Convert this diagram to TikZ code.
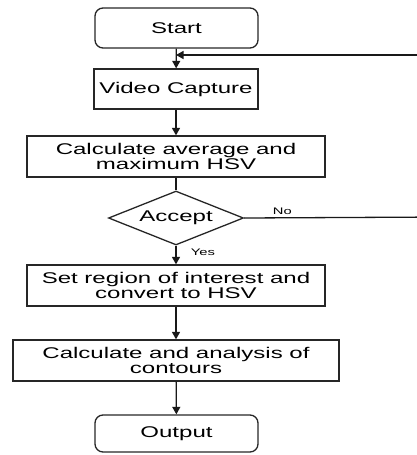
\documentclass[tikz,border=0pt]{standalone}
\usepackage{fontspec}
\setmainfont[FakeStretch=1.55]{Liberation Sans}
\usetikzlibrary{shapes.geometric,arrows.meta}
\begin{document}
\begin{tikzpicture}[x=1pt,y=-1pt,
  base/.style={draw=black!85,line width=1.3pt,inner sep=0pt,align=center,
    font=\fontsize{15.5}{15.5}\selectfont},
  procbox/.style={base,rectangle},
  termbox/.style={base,rectangle,rounded corners=8pt},
  decbox/.style={base,diamond,aspect=2.5},
  lbl/.style={font=\fontsize{9.5}{9.5}\selectfont,inner sep=0pt},
  conn/.style={draw=black!90,line width=1.3pt},
  arr/.style={conn,-{Triangle[length=7.5pt,width=8pt]}}]
\useasboundingbox (0,0) rectangle (416,455);
\node[termbox,minimum width=163pt,minimum height=40pt] (start) at (176.5,28) {Start};
\node[procbox,minimum width=164pt,minimum height=40pt] (vc) at (176,89) {Video Capture};
\node[procbox,minimum width=298pt,minimum height=41pt] (avg) at (176,156.5) {Calculate average and\\maximum HSV};
\node[decbox,minimum width=135pt,minimum height=54pt] (acc) at (176,218) {Accept};
\node[procbox,minimum width=298pt,minimum height=41pt] (roi) at (176,285.5) {Set region of interest and\\convert to HSV};
\node[procbox,minimum width=326pt,minimum height=41pt] (cont) at (176,360.5) {Calculate and analysis of\\contours};
\node[termbox,minimum width=163pt,minimum height=37pt] (out) at (176.5,433.5) {Output};
\coordinate (join) at (vc.north |- 0,55);
\coordinate (far1) at (445,217);
\coordinate (far2) at (445,55);
\draw[arr] (start) -- (vc);
\draw[arr] (vc) -- (avg);
\draw[conn] (avg) -- (acc);
\draw[arr] (acc) -- (roi) node[lbl,pos=0.35,xshift=27pt] (yes) {Yes};
\draw[arr] (roi) -- (cont);
\draw[arr] (cont) -- (out);
\draw[conn] (acc.east) -- (far1) node[lbl,pos=0.19,yshift=7pt] (no) {No};
\draw[arr] (far1) -- (far2) -- (join);
\end{tikzpicture}
\end{document}
